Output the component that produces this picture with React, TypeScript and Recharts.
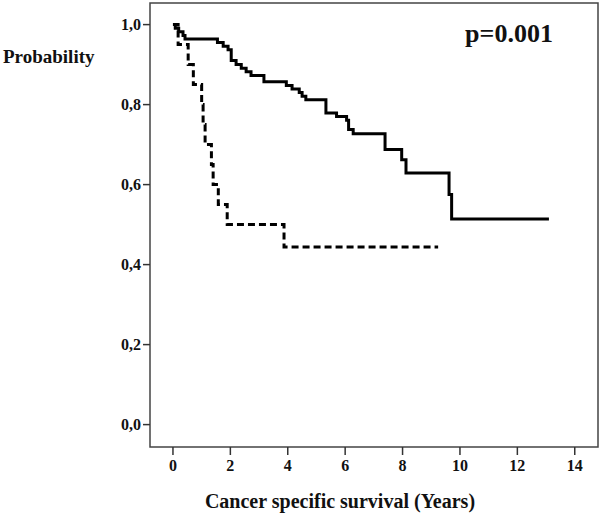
import React from "react";
import {
  LineChart,
  Line,
  XAxis,
  YAxis,
  ReferenceArea,
} from "recharts";

// Kaplan-Meier estimates (years, survival probability)
const solidTimes = [
  0, 0.08, 0.2, 0.35, 0.42, 1.55, 1.75, 1.92, 2.03, 2.2, 2.38, 2.55, 2.72,
  3.17, 3.95, 4.15, 4.4, 4.5, 4.63, 5.33, 5.7, 6.05, 6.12, 6.28, 7.39, 7.97,
  8.12, 9.62, 9.71, 13.1,
];
const solidSurvival = [
  1.0, 0.991, 0.982, 0.973, 0.964, 0.955, 0.946, 0.937, 0.91, 0.9, 0.891,
  0.882, 0.873, 0.857, 0.848, 0.839, 0.83, 0.821, 0.812, 0.779, 0.77, 0.761,
  0.738, 0.727, 0.688, 0.662, 0.629, 0.575, 0.514, 0.514,
];

const dashedTimes = [
  0, 0.18, 0.53, 0.71, 1.0, 1.05, 1.12, 1.34, 1.4, 1.58, 1.89, 3.87, 9.24,
];
const dashedSurvival = [
  1.0, 0.95, 0.9, 0.85, 0.8, 0.75, 0.7, 0.65, 0.6, 0.55, 0.5, 0.444, 0.444,
];

const xTicks = [0, 2, 4, 6, 8, 10, 12, 14];
const yTicks = [0, 0.2, 0.4, 0.6, 0.8, 1.0];

const X_DOMAIN: [number, number] = [-0.8, 14.81];
const Y_DOMAIN: [number, number] = [-0.056, 1.054];

const FONT = "'Liberation Serif', 'Times New Roman', serif";

const solidData = solidTimes.map((t, i) => ({ t, s: solidSurvival[i] }));
const dashedData = dashedTimes.map((t, i) => ({ t, s: dashedSurvival[i] }));

const tickStyle = {
  fontFamily: FONT,
  fontWeight: 700,
  fontSize: 16,
  fill: "#111",
};

export default function App() {
  return (
    <div
      style={{
        position: "absolute",
        left: 0,
        top: 0,
        width: 600,
        height: 514,
        background: "#fff",
      }}
    >
      <LineChart
        width={600}
        height={514}
        margin={{ top: 3, right: 2, left: 100, bottom: 37 }}
      >
        <XAxis
          type="number"
          dataKey="t"
          domain={X_DOMAIN}
          ticks={xTicks}
          allowDataOverflow
          height={30}
          tick={tickStyle}
          tickSize={8}
          tickMargin={5}
          tickLine={{ stroke: "#333", strokeWidth: 1.5 }}
          axisLine={false}
        />
        <YAxis
          type="number"
          dataKey="s"
          domain={Y_DOMAIN}
          ticks={yTicks}
          allowDataOverflow
          width={50}
          tick={tickStyle}
          tickSize={7}
          tickMargin={2}
          tickFormatter={(v: number) => v.toFixed(1).replace(".", ",")}
          tickLine={{ stroke: "#333", strokeWidth: 1.5 }}
          axisLine={false}
        />
        <ReferenceArea
          x1={X_DOMAIN[0]}
          x2={X_DOMAIN[1]}
          y1={Y_DOMAIN[0]}
          y2={Y_DOMAIN[1]}
          fill="none"
          fillOpacity={0}
          stroke="#444"
          strokeWidth={1.5}
          ifOverflow="visible"
        />
        <Line
          data={dashedData}
          dataKey="s"
          type="stepAfter"
          stroke="#000"
          strokeWidth={3}
          strokeDasharray="7 4"
          dot={false}
          isAnimationActive={false}
        />
        <Line
          data={solidData}
          dataKey="s"
          type="stepAfter"
          stroke="#000"
          strokeWidth={3}
          dot={false}
          isAnimationActive={false}
        />
      </LineChart>
      <svg
        width={600}
        height={514}
        style={{ position: "absolute", left: 0, top: 0, pointerEvents: "none" }}
      >
        <text
          x={3}
          y={63}
          fontFamily={FONT}
          fontWeight={700}
          fontSize={19}
          fill="#111"
        >
          Probability
        </text>
        <text
          x={509}
          y={42}
          textAnchor="middle"
          fontFamily={FONT}
          fontWeight={700}
          fontSize={26}
          fill="#111"
        >
          p=0.001
        </text>
        <text
          x={340}
          y={508}
          textAnchor="middle"
          fontFamily={FONT}
          fontWeight={700}
          fontSize={20}
          fill="#111"
        >
          Cancer specific survival (Years)
        </text>
      </svg>
    </div>
  );
}
